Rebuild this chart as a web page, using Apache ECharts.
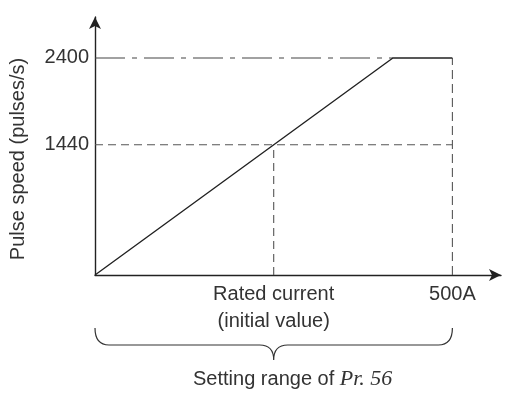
<!DOCTYPE html>
<html>
<head>
<meta charset="utf-8">
<script src="https://cdn.jsdelivr.net/npm/echarts@6/dist/echarts.min.js"></script>
<style>html,body{margin:0;padding:0;background:#fff}#c{width:505px;height:398px}</style>
</head>
<body>
<div id="c"></div>
<script>
// ---- data ----
const xTickValues = [250, 500];
const xTickLabels = ['Rated current\n(initial value)', '500A'];
const yTickValues = [1440, 2400];
const curveX = [0, 416.7, 500];
const curveY = [0, 2400, 2400];
const ratedCurrent = 250;
const ratedSpeed = 1440;
const maxCurrent = 500;
const maxSpeed = 2400;
const kneeCurrent = 416.7;
const rangeStart = 0;
const rangeEnd = 500;
const yName = 'Pulse speed (pulses/s)';
const rangeText = 'Setting range of ';
const rangeParam = 'Pr. 56';

const FONT = 'Liberation Sans';
const TXT = '#333';
const dashGrey = '#555';

const chart = echarts.init(document.getElementById('c'), null, {renderer: 'canvas'});
const labelMap = {};
xTickValues.forEach((v, i) => labelMap[v] = xTickLabels[i]);

function seg(x0, y0, x1, y1) { return [[x0, y0], [x1, y1]]; }

chart.setOption({
  animation: false,
  grid: {left: 92, right: 4, top: 17, bottom: 123},
  xAxis: {
    type: 'value', min: 0, max: 568,
    axisLine: {show: true, lineStyle: {color: '#222', width: 1.4}, symbol: ['none', 'arrow'], symbolSize: [9, 12]},
    axisTick: {show: false},
    splitLine: {show: false},
    axisLabel: {
      customValues: xTickValues,
      formatter: v => labelMap[v] || '',
      color: TXT, fontFamily: FONT, fontSize: 20, lineHeight: 27, margin: 6
    }
  },
  yAxis: {
    type: 'value', min: 0, max: 2853,
    name: yName, nameLocation: 'middle', nameGap: 67,
    nameTextStyle: {color: TXT, fontFamily: FONT, fontSize: 20, padding: [0, 26, 0, 0]},
    axisLine: {show: true, lineStyle: {color: '#222', width: 1.4}, symbol: ['none', 'arrow'], symbolSize: [9, 12]},
    axisTick: {show: false},
    splitLine: {show: false},
    axisLabel: {
      customValues: yTickValues,
      formatter: v => String(v),
      color: TXT, fontFamily: FONT, fontSize: 20, margin: 6
    }
  },
  series: [
    {type: 'line', data: seg(0, maxSpeed, kneeCurrent, maxSpeed), symbol: 'none', silent: true,
     lineStyle: {color: '#444', width: 1.1, type: [30, 7, 5, 7]}},
    {type: 'line', data: seg(0, ratedSpeed, maxCurrent, ratedSpeed), symbol: 'none', silent: true,
     lineStyle: {color: dashGrey, width: 1.1, type: [8, 5]}},
    {type: 'line', data: seg(ratedCurrent, 0, ratedCurrent, ratedSpeed), symbol: 'none', silent: true,
     lineStyle: {color: dashGrey, width: 1.1, type: [8, 5]}},
    {type: 'line', data: seg(maxCurrent, 0, maxCurrent, maxSpeed), symbol: 'none', silent: true,
     lineStyle: {color: dashGrey, width: 1.1, type: [9, 5]}},
    {type: 'line', data: curveX.map((x, i) => [x, curveY[i]]), symbol: 'none', silent: true,
     lineStyle: {color: '#222', width: 1.4}},
    {
      type: 'custom', clip: false, silent: true,
      data: [[rangeStart, rangeEnd]],
      renderItem: function (params, api) {
        const a = api.coord([api.value(0), 0]);
        const b = api.coord([api.value(1), 0]);
        const y = a[1];
        const x0 = a[0], x1 = b[0], xm = (x0 + x1) / 2;
        const yt = y + 53, yh = y + 70, yp = y + 85, r = 14;
        const path = `M${x0},${yt} Q${x0},${yh} ${x0 + r},${yh} L${xm - r},${yh} Q${xm},${yh} ${xm},${yp} Q${xm},${yh} ${xm + r},${yh} L${x1 - r},${yh} Q${x1},${yh} ${x1},${yt}`;
        return {
          type: 'group',
          children: [
            {type: 'path', shape: {pathData: path}, style: {fill: 'none', stroke: '#333', lineWidth: 1.2}},
            {type: 'text', x: xm + 19, y: y + 104,
             style: {
               text: '{a|' + rangeText + '}{b|' + rangeParam + '}',
               align: 'center', verticalAlign: 'middle',
               rich: {
                 a: {fontFamily: FONT, fontSize: 20, fill: TXT},
                 b: {fontFamily: 'Liberation Serif', fontStyle: 'italic', fontSize: 22, fill: TXT}
               }
             }}
          ]
        };
      }
    }
  ]
});
</script>
</body>
</html>
